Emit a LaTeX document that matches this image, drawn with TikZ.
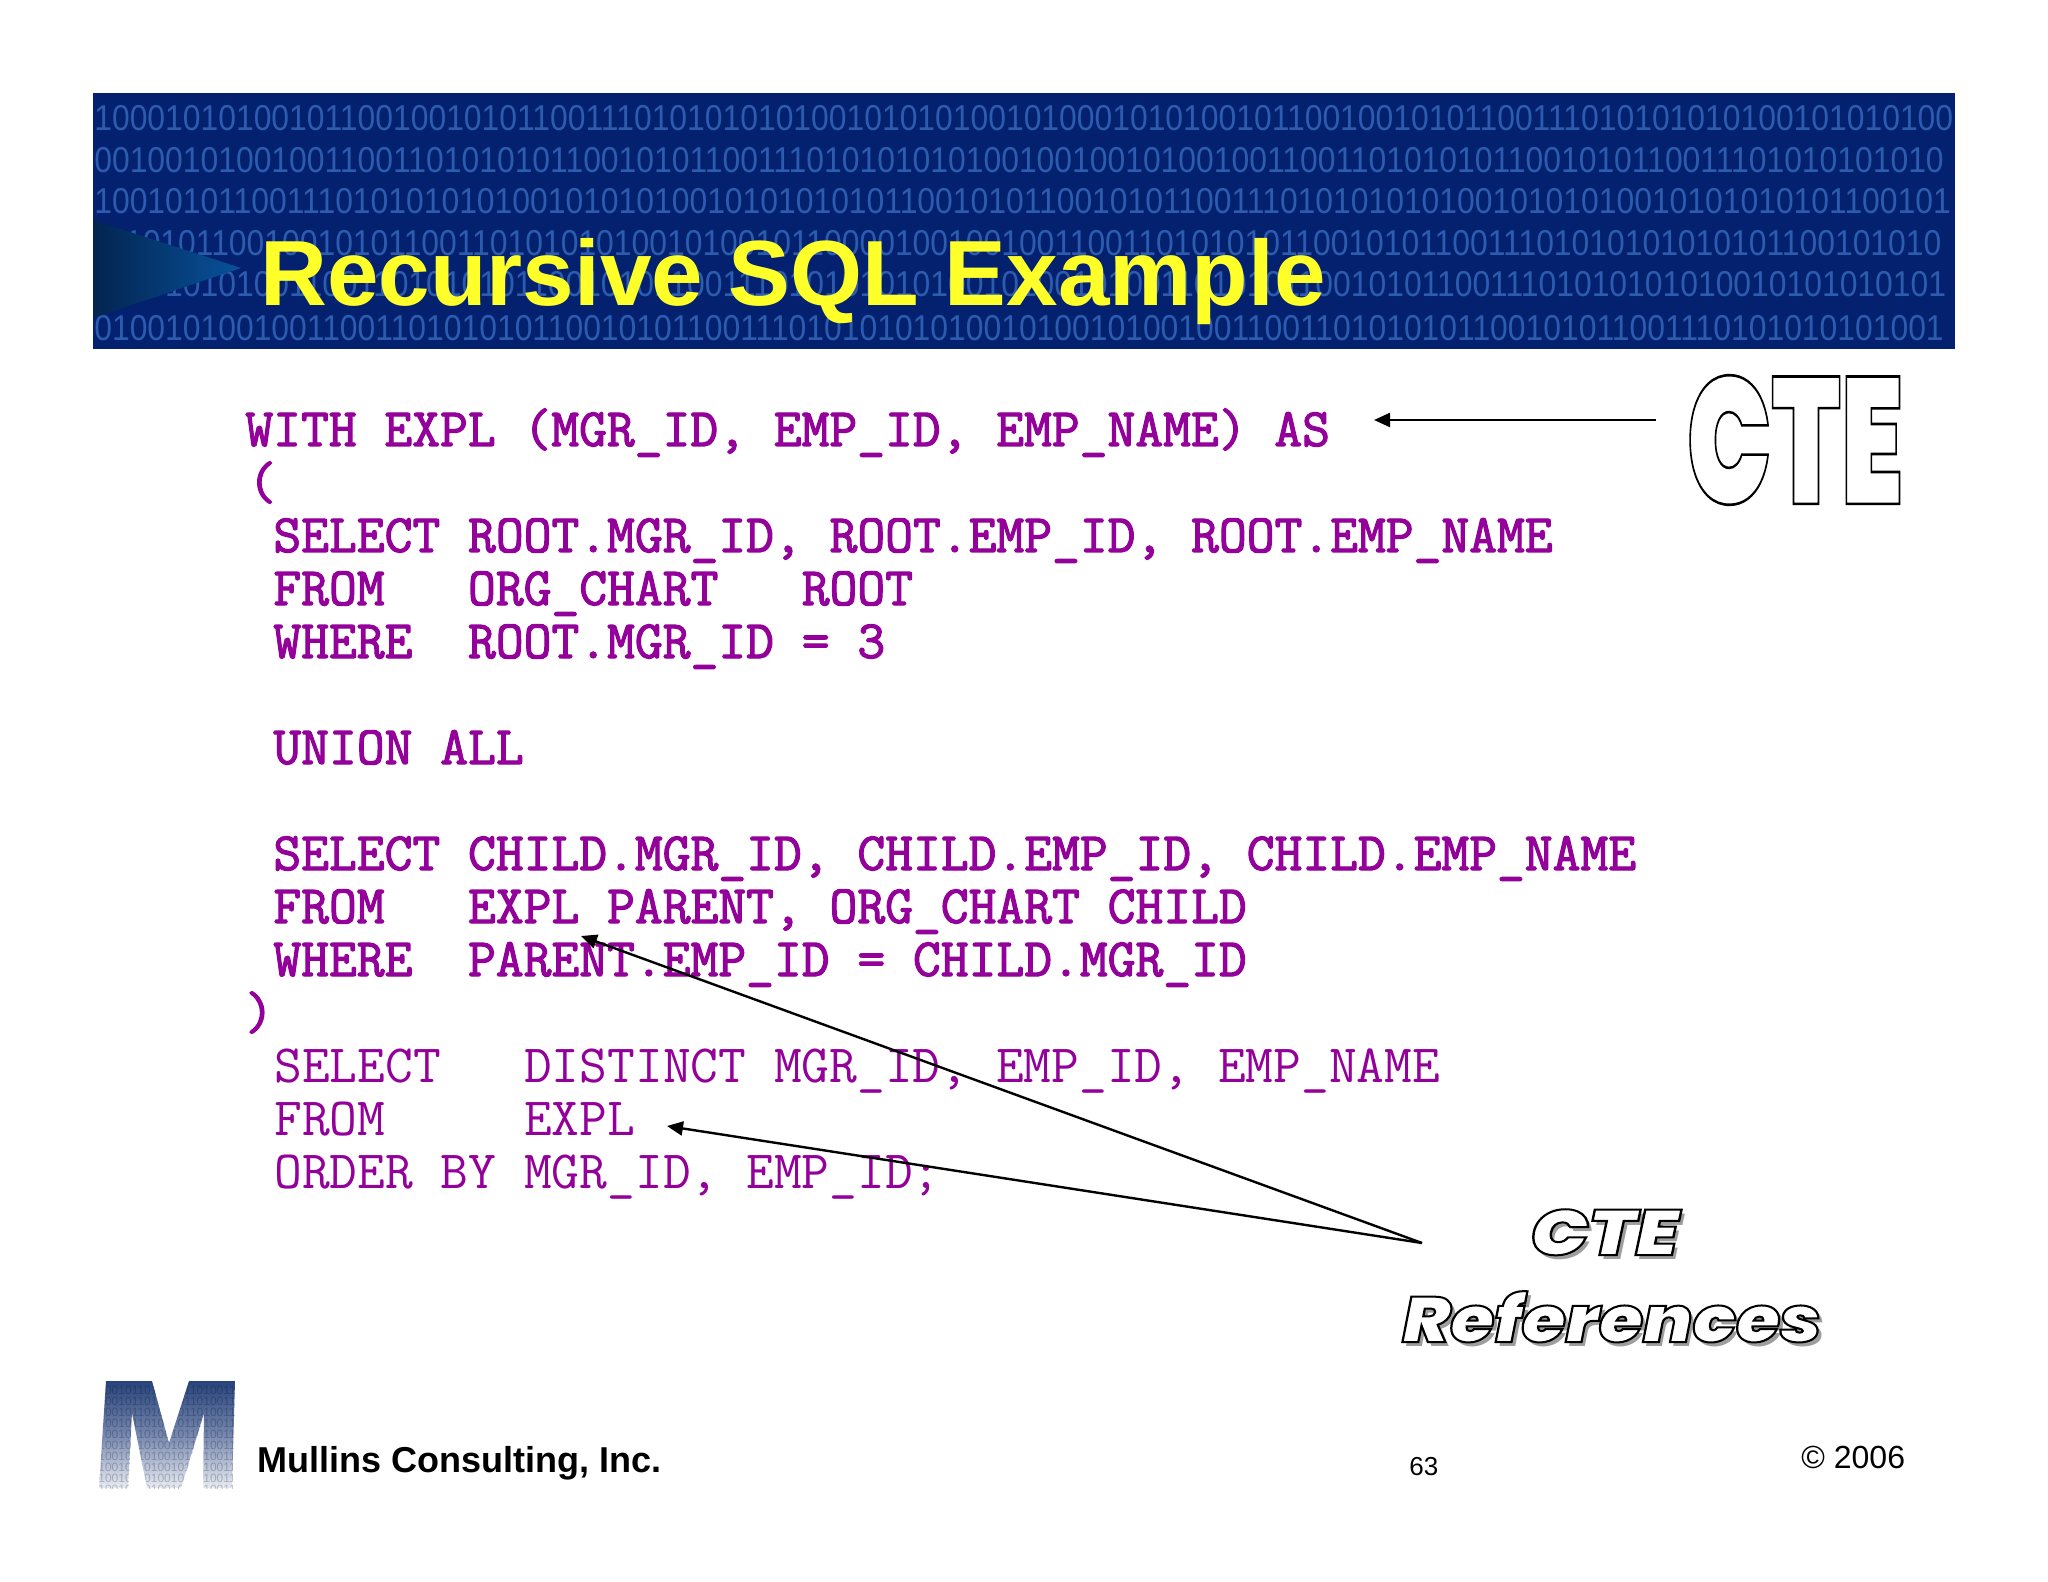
\documentclass[tikz,border=0pt]{standalone}
\usepackage{fontspec}
\setmainfont{Liberation Sans}
\newfontfamily\sqlheavy{Latin Modern Mono}[FakeBold=2.2]
\newfontfamily\sqllight{Latin Modern Mono}
\newfontfamily\heavy{Poppins Black}
\newfontfamily\heavyit{Poppins Black Italic}
\usetikzlibrary{arrows.meta}
\definecolor{bannerblue}{HTML}{03216E}
\definecolor{digitblue}{HTML}{2B5CAE}
\definecolor{sqlpurple}{HTML}{93009A}
\definecolor{titleyellow}{HTML}{FFFF2A}
\newcommand{\strokedtext}[2]{\special{pdf:code q 2 Tr #1 w 0 0 0 RG 1 1 1 rg}#2\special{pdf:code Q}}
\newcommand{\fsz}[1]{\fontsize{#1pt}{#1pt}\selectfont}
\tikzset{
  sqlbold/.style={anchor=base west,inner sep=0pt,text=sqlpurple,font=\sqlheavy\fsz{27}},
  sqlthin/.style={anchor=base west,inner sep=0pt,text=sqlpurple,font=\sqllight\fsz{26.95}},
  digits/.style={anchor=west,inner sep=0pt,text=digitblue,font=\fsz{18},xscale=0.885,transform shape},
  logodigits/.style={anchor=west,inner sep=0pt,text=black,opacity=0.22,font=\fsz{6}},
  foot/.style={anchor=base west,inner sep=0pt,text=black},
  pointer/.style={draw=black,line width=1.2pt,-{Triangle[length=8pt,width=7pt]}},
  wa/.style={inner sep=0pt,anchor=base west,font=\heavyit\fsz{32}},
}
\begin{document}
\begin{tikzpicture}[x=0.5pt,y=-0.5pt]
\useasboundingbox (0,0) rectangle (2048,1582);
\fill[white] (0,0) rectangle (2048,1582);
% banner
\fill[bannerblue] (93,93) rectangle (1955,349);
\begin{scope}
\clip (93,93) rectangle (1955,349);
\node[digits] (r1) at (94,118) {1000101010010110010010101100111010101010100101010100101000101010010110010010101100111010101010100101010100};
\node[digits] (r2) at (94,160) {0010010100100110011010101011001010110011101010101010010010010100100110011010101011001010110011101010101010};
\node[digits] (r3) at (94,201) {1001010110011101010101010010101010010101010101100101011001010110011101010101010010101010010101010101100101};
\node[digits] (r4) at (94,243) {1110101100100101011001101010101001010010110000100100100110011010101011001010110011101010101010101100101010};
\node[digits] (r5) at (94,284) {0100101010011001101010101100101011001110101010101001010010100110101011001010110011101010101010010101010101};
\node[digits] (r6) at (94,328) {0100101001001100110101010110010101100111010101010100101001010010011001101010101100101011001110101010101001};
\end{scope}
\shade[left color={rgb,255:red,3;green,36;blue,80},right color={rgb,255:red,8;green,82;blue,155}] (93,220) -- (241,268) -- (93,318) -- cycle;
\node[anchor=base west,inner sep=0pt,text=titleyellow,font=\bfseries\fsz{46.3}] (title) at (260,306) {Recursive SQL Example};
% SQL
\node[sqlbold] (l1) at (245,446) {WITH EXPL (MGR\_ID, EMP\_ID, EMP\_NAME) AS};
\node[sqlbold] (l2) at (248,499) {(};
\node[sqlbold] (l3) at (273,552) {SELECT ROOT.MGR\_ID, ROOT.EMP\_ID, ROOT.EMP\_NAME};
\node[sqlbold] (l4) at (273,605) {FROM~~~ORG\_CHART~~~ROOT};
\node[sqlbold] (l5) at (273,658) {WHERE~~ROOT.MGR\_ID = 3};
\node[sqlbold] (l6) at (273,764) {UNION ALL};
\node[sqlbold] (l7) at (273,870) {SELECT CHILD.MGR\_ID, CHILD.EMP\_ID, CHILD.EMP\_NAME};
\node[sqlbold] (l8) at (273,923) {FROM~~~EXPL PARENT, ORG\_CHART CHILD};
\node[sqlbold] (l9) at (273,976) {WHERE~~PARENT.EMP\_ID = CHILD.MGR\_ID};
\node[sqlbold] (l10) at (245,1029) {)};
\node[sqlthin] (l11) at (274,1082) {SELECT~~~DISTINCT MGR\_ID, EMP\_ID, EMP\_NAME};
\node[sqlthin] (l12) at (274,1135) {FROM~~~~~EXPL};
\node[sqlthin] (l13) at (274,1188) {ORDER BY MGR\_ID, EMP\_ID;};
% word art
\node[inner sep=0pt,anchor=center,font=\heavy\fsz{90},xscale=0.625,transform shape] (cte) at (1795,440) {\strokedtext{1.3}{CTE}};
\node[wa,xscale=1.2,transform shape,text=black!38] (refcteshadow) at (1534,1259) {CTE};
\node[wa,xscale=1.2,transform shape] (refcte) at (1530,1255) {\strokedtext{1.0}{CTE}};
\node[wa,xscale=1.115,transform shape,text=black!38] (refsshadow) at (1406,1346) {References};
\node[wa,xscale=1.115,transform shape] (refs) at (1402,1342) {\strokedtext{1.0}{References}};
% connectors
\coordinate (ctefrom) at (1656,420);
\coordinate (cteto) at (1374,420);
\coordinate (refsfrom) at (1422,1243);
\coordinate (parentto) at (581,936);
\coordinate (explto) at (667,1126);
\draw[pointer] (ctefrom) -- (cteto);
\draw[pointer] (refsfrom) -- (parentto);
\draw[pointer] (refsfrom) -- (explto);
% logo
\begin{scope}
\path[clip] (106,1381) -- (152,1381) -- (169,1443) -- (189,1381) -- (235,1381) -- (232,1488) -- (203,1488) -- (204,1413) -- (181,1488) -- (147,1488) -- (132,1413) -- (128,1488) -- (99,1488) -- cycle;
\shade[top color={rgb,255:red,38;green,66;blue,122},bottom color={rgb,255:red,238;green,240;blue,246},middle color={rgb,255:red,118;green,136;blue,176}] (95,1380) rectangle (238,1490);
\foreach \i in {0,...,9}{
  \node[logodigits] (logo\i) at (98,1390+11*\i) {1001011010010110100110100110};
}
\end{scope}
% footer
\node[foot,font=\bfseries\fsz{18}] (company) at (257,1472) {Mullins Consulting, Inc.};
\node[foot,font=\fsz{13}] (page) at (1409,1475) {63};
\node[foot,font=\fsz{16}] (copyright) at (1801,1468) {© 2006};
\end{tikzpicture}
\end{document}
